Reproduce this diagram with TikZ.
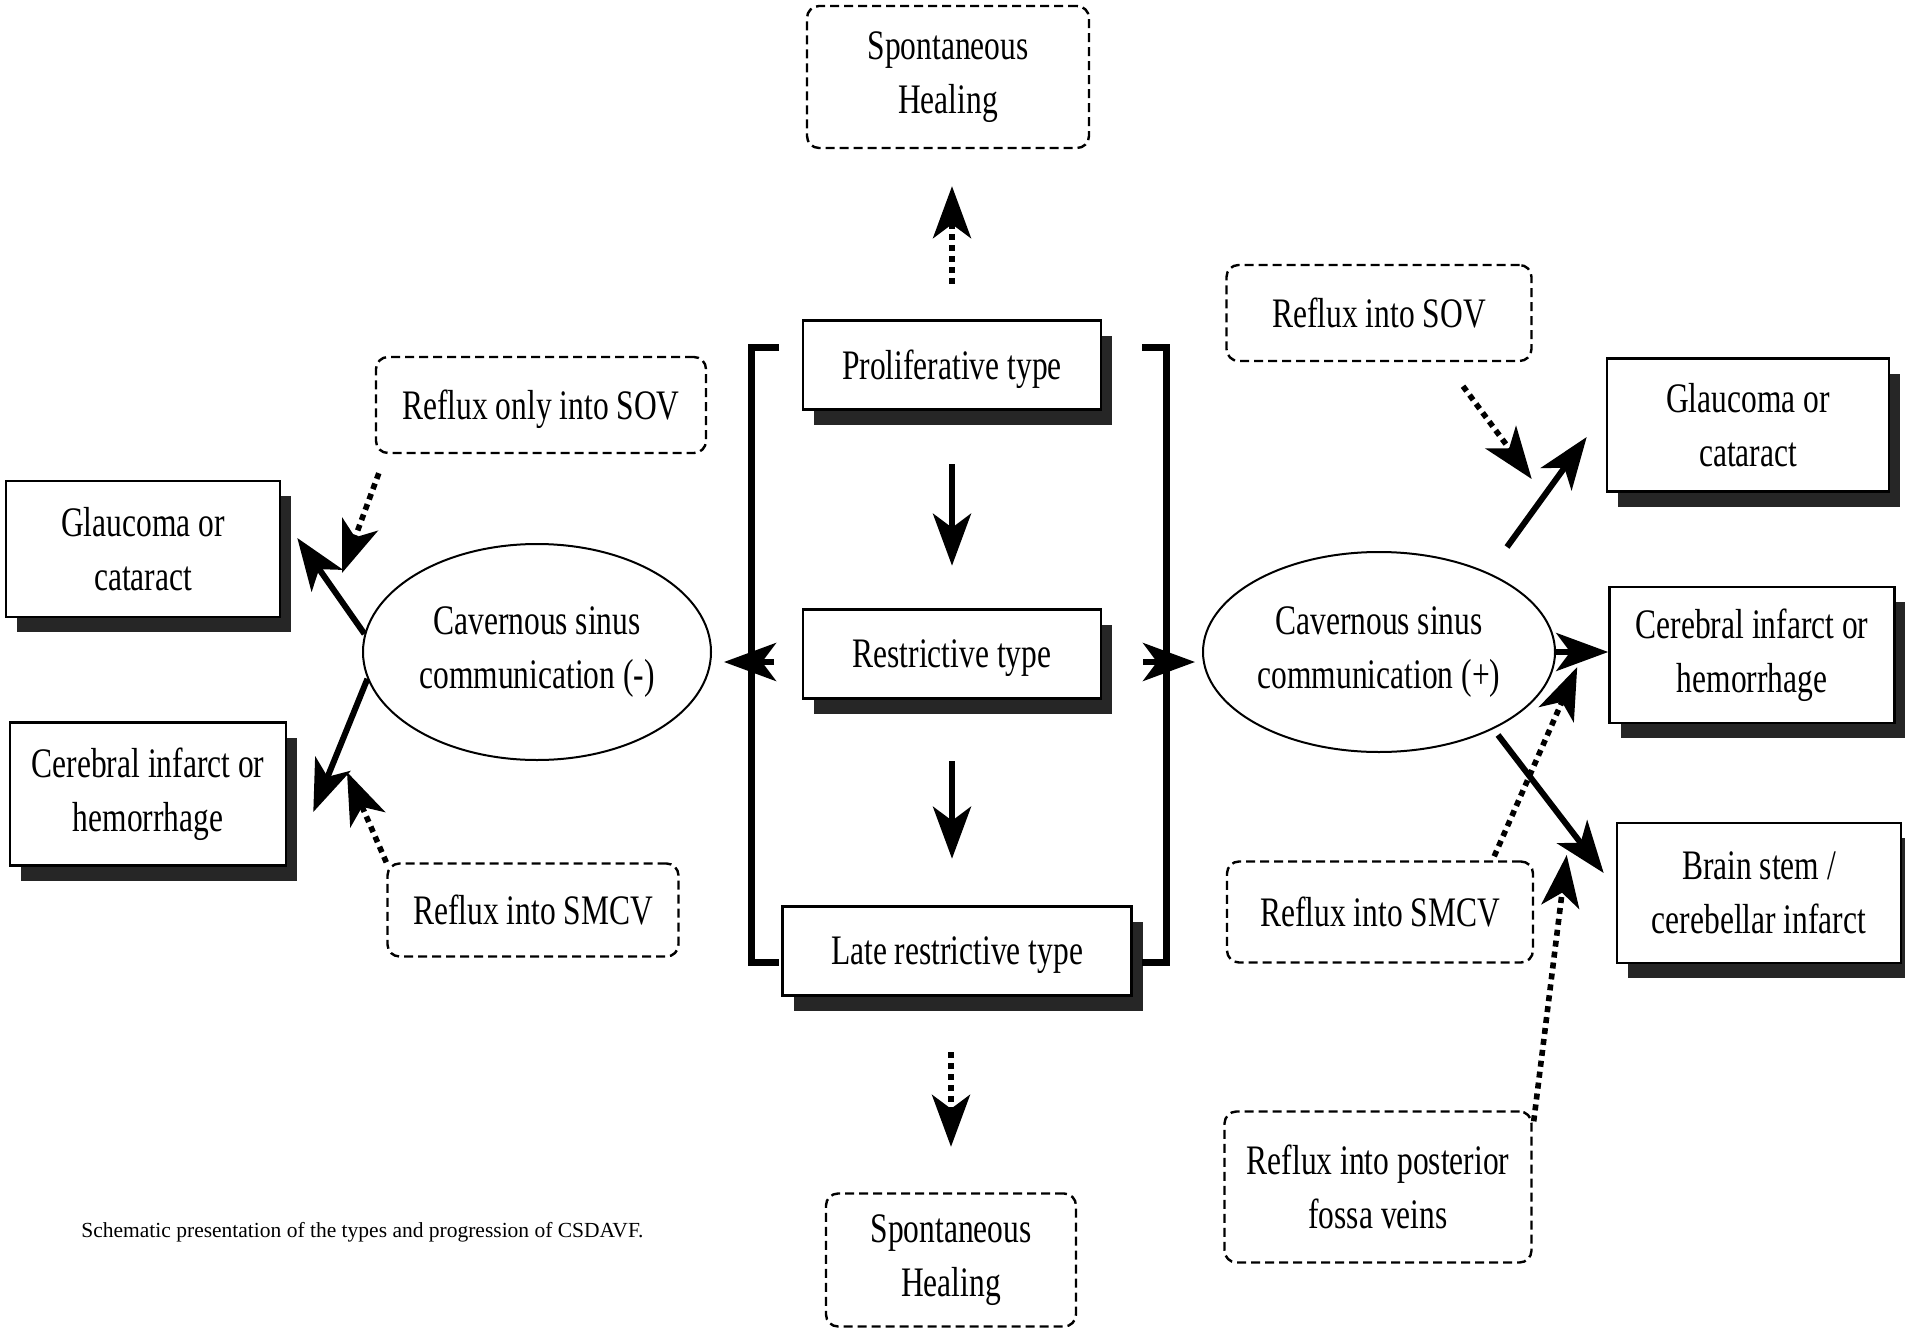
\documentclass[tikz,border=0pt]{standalone}
\usepackage{fontspec}
\setmainfont{Liberation Serif}[FakeStretch=0.75]
\newfontfamily\capfont{Liberation Serif}
\usetikzlibrary{shapes.geometric,calc,shadows,arrows.meta}
\newcommand{\lbl}{\fontsize{21}{27}\selectfont}
\tikzset{
    typebox/.style = {
        draw, fill=white, rectangle, align=center,
        line width=1.3pt,
        inner sep=0,
        minimum height={44.5pt},
        font=\lbl,
        drop shadow={shadow xshift=5.5pt,shadow yshift=-7.5pt,fill=black!85,opacity=1}
    },
    refl/.style = {
        draw, rectangle, rounded corners=6pt, align=center,
        dash pattern=on 4.5pt off 2.5pt,
        line width=1.2pt,
        inner sep=0,
        font=\lbl
    },
    sinus/.style = {
        draw, ellipse, align=center,
        line width=1pt,
        inner sep=0,
        font=\lbl
    },
    flow/.style = {
        line width=3pt, -{Stealth[length=26pt,width=19pt,inset=7pt]}
    },
    reflow/.style = {
        flow, line width=2.8pt, dash pattern=on 3pt off 2.5pt
    },
    bracket/.style = {
        line width=3.5pt, miter limit=10
    }
}

\begin{document}
\begin{tikzpicture}[x=0.5pt,y=-0.5pt]

\path[fill=white,use as bounding box] (0,0) rectangle (1905,1332);

% 1. central column
\node[refl,minimum width=141pt,minimum height=71pt] (heal1) at (948,77) {Spontaneous\\ Healing};
\node[typebox,minimum width=149pt,text depth=0pt] (prolif) at (952,365) {Proliferative type};
\node[typebox,minimum width=149pt,text depth=0pt] (restr)  at (952,654) {Restrictive type};
\node[typebox,minimum width=174.5pt,text depth=0pt] (late) at (957,951) {Late restrictive type};
\node[refl,minimum width=125pt,minimum height=66.5pt] (heal2) at (951,1260) {Spontaneous\\ Healing};

% 2. left side
\node[typebox,minimum width=137pt,minimum height=68pt]   (glauL) at (143,549) {Glaucoma or\\ cataract};
\node[typebox,minimum width=138pt,minimum height=71.5pt] (cereL) at (148,794) {Cerebral infarct or\\ hemorrhage};
\node[sinus,minimum width=174pt,minimum height=108pt]    (ellL)  at (537,652) {Cavernous sinus\\ communication (-)};
\node[refl,minimum width=165pt,minimum height=48pt,text depth=0pt] (sovL) at (541,405) {Reflux only into SOV};
\node[refl,minimum width=145.5pt,minimum height=46.5pt]  (smcvL) at (533,910) {Reflux into SMCV};

% 3. right side
\node[refl,minimum width=152.5pt,minimum height=48pt]    (sovR)   at (1379,313)  {Reflux into SOV};
\node[typebox,minimum width=141pt,minimum height=66.5pt] (glauR)  at (1748,425)  {Glaucoma or\\ cataract};
\node[typebox,minimum width=142.5pt,minimum height=68pt] (cereR)  at (1752,655)  {Cerebral infarct or\\ hemorrhage};
\node[typebox,minimum width=142pt,minimum height=70pt]   (brainR) at (1759,893)  {Brain stem /\\ cerebellar infarct};
\node[sinus,minimum width=176pt,minimum height=100pt]    (ellR)   at (1379,652)  {Cavernous sinus\\ communication (+)};
\node[refl,minimum width=153pt,minimum height=50.5pt]    (smcvR)  at (1380,912)  {Reflux into SMCV};
\node[refl,minimum width=153.5pt,minimum height=75.5pt]  (postR)  at (1378,1187) {Reflux into posterior\\ fossa veins};

% 4. brackets round the types
\coordinate (brL) at (774,662);
\coordinate (brR) at (1143,662);
\draw[bracket] (779,347) -- (751,347) -- (751,962) -- (779,962);
\draw[bracket] (1142,347) -- (1166,347) -- (1166,962) -- (1142,962);

% 5. arrows
\draw[flow] ($(prolif.south)+(0,53.5)$) -- ($(restr.north)+(0,-42.5)$);
\draw[flow] ($(restr.south)+(0,61.5)$) -- ($(restr.south |- late.north)+(0,-46.5)$);
\draw[reflow] ($(prolif.north)+(0,-35.5)$) -- ($(prolif.north |- heal1.south)+(0,37)$);
\draw[reflow] ($(heal2.north |- late.south)+(0,55.5)$) -- ($(heal2.north)+(0,-45.5)$);

\draw[flow] (brL) -- ($(brL -| ellL.east)+(12,0)$);
\draw[flow] (brR) -- ($(brR -| ellR.west)+(-7,0)$);

\draw[flow] (ellL.174) -- ($(glauL.east)+(16,-11)$);
\draw[flow] (ellL.189) -- ($(cereL.east)+(26,18)$);
\draw[reflow] ($(sovL.south west)+(4,19)$) -- ($(ellL.west)+(-20,-79)$);
\draw[reflow] (smcvL.north west) -- ($(ellL.west)+(-15,120)$);

\draw[flow] ($(ellR.center)+(128,-105)$) -- ($(glauR.west)+(-19,12)$);
\draw[flow] (ellR.east) -- (ellR.east -| cereR.west);
\draw[flow] ($(ellR.center)+(119,83)$) -- ($(brainR.west)+(-12,-20)$);
\draw[reflow] ($(sovR.south)+(84,24)$) -- ($(glauR.west)+(-74,54)$);
\draw[reflow] ($(smcvR.north east)+(-40,-4)$) -- ($(cereR.west)+(-31,12)$);
\draw[reflow] ($(postR.north east)+(1,11)$) -- ($(brainR.west)+(-49,-38)$);

% 6. caption
\node[anchor=west,inner sep=0,font=\capfont\fontsize{10.75}{12}\selectfont] (cap) at (81,1232)
  {Schematic presentation of the types and progression of CSDAVF.};

\end{tikzpicture}
\end{document}
